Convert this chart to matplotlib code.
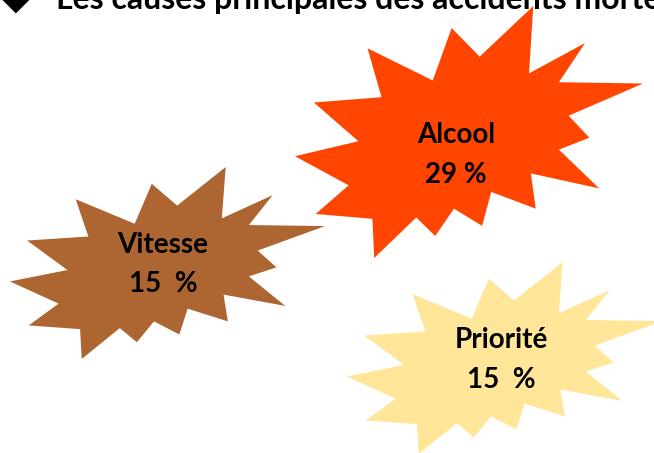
import numpy as np
import matplotlib
matplotlib.use("Agg")
import matplotlib.pyplot as plt
from matplotlib.patches import Polygon

# data
causes = ["Alcool", "Vitesse", "Priorité"]
pourcentages = [29, 15, 15]
espaces = [" ", "  ", "  "]

titre = "Les causes principales des accidents mortels"

# "Explosion 2" shape outline, in 21600 units
SEAL = np.array([
    (11462, 4342), (14790, 0), (14525, 5777), (18007, 3172), (16380, 6532),
    (21600, 6645), (16985, 9402), (18270, 11290), (16380, 12310),
    (18877, 15632), (14640, 14350), (14942, 17370), (12180, 15935),
    (11612, 18842), (9872, 17370), (8700, 19712), (7527, 18125),
    (4917, 21600), (4805, 18240), (1285, 17825), (3330, 15370),
    (0, 12877), (3935, 11592), (1172, 8270), (5372, 7817), (4502, 3625),
    (8550, 6382), (9722, 1887),
]) / 21600.0

# layout of each burst: x0, y0, width, height (pixels), colour, text centre
boxes = [(295, 6, 348, 252), (10, 167, 315, 192), (347, 262, 315, 192)]
couleurs = ["#FF4500", "#AD6631", "#FFE699"]
centres = [(456, 135, 175), (163, 245, 284), (501, 340, 380)]

W, H = 654, 453
fig = plt.figure(figsize=(W / 100, H / 100), dpi=100)
ax = fig.add_axes([0, 0, 1, 1])
ax.set_xlim(0, W)
ax.set_ylim(H, 0)
ax.axis("off")

font = ["Lato", "DejaVu Sans"]

for cause, pct, esp, box, col, c in zip(causes, pourcentages, espaces,
                                        boxes, couleurs, centres):
    x0, y0, w, h = box
    pts = SEAL * [w, h] + [x0, y0]
    ax.add_patch(Polygon(pts, closed=True, facecolor=col, edgecolor="none",
                         zorder=1))
    ax.text(c[0], c[1], cause, ha="center", va="center", fontsize=20,
            fontweight="bold", family=font, color="black", zorder=3)
    ax.text(c[0], c[2], f"{pct}{esp}%", ha="center", va="center",
            fontsize=20, fontweight="bold", family=font, color="black",
            zorder=3)

# title, cut at the top of the slide
ax.text(16, -1, "\u25c6", ha="center", va="center", fontsize=26,
        family="DejaVu Sans", color="black", zorder=4)
ax.text(56, 8.5, titre, ha="left", va="baseline", fontsize=23,
        fontweight="bold", family=font, color="black", zorder=4)

fig.savefig("out.png", dpi=100)
